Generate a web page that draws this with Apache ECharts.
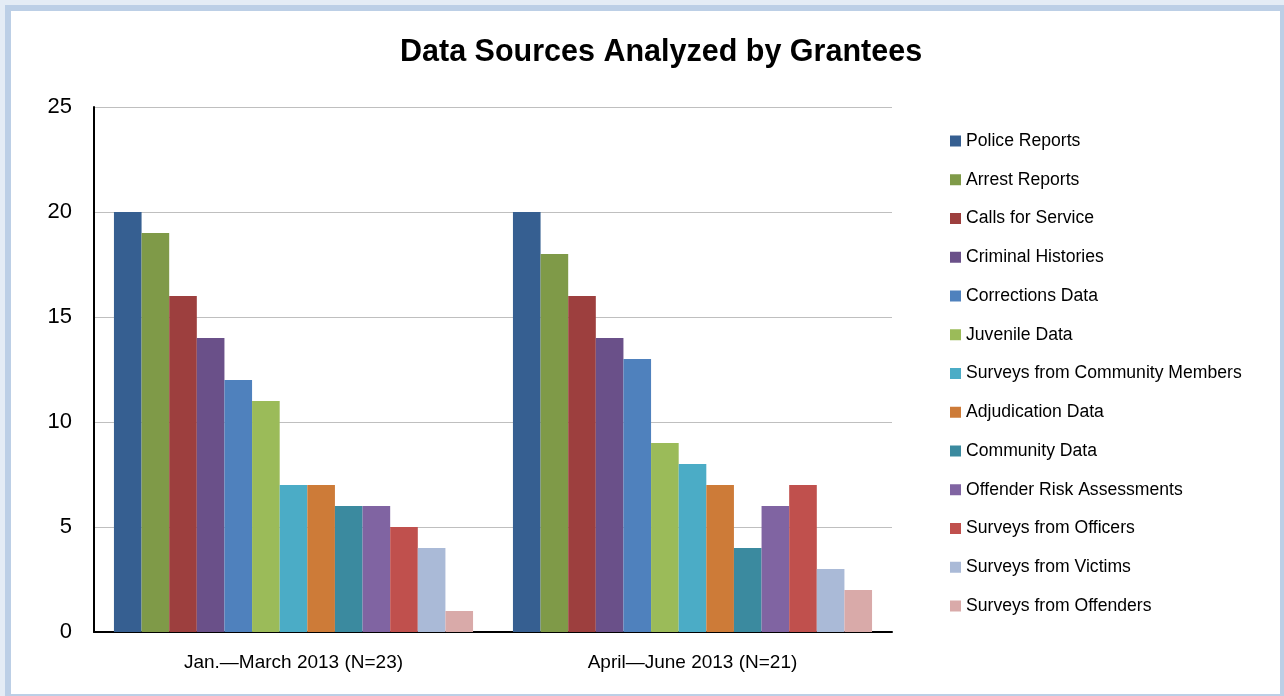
<!DOCTYPE html>
<html>
<head>
<meta charset="utf-8">
<script src="https://cdn.jsdelivr.net/npm/echarts@6/dist/echarts.min.js"></script>
<style>
  html, body { margin: 0; padding: 0; background: #e4ecf5; }
  #frame {
    position: absolute; left: 5px; top: 5px;
    width: 1281px; height: 695px; box-sizing: border-box;
    border: 6px solid #bccfe6; background: #fff;
  }
  #chart { position: absolute; left: 0; top: 0; width: 1284px; height: 696px; }
</style>
</head>
<body>
<div id="frame"></div>
<div id="chart"></div>
<script>
'use strict';
var categories = ['Jan.\u2014March 2013 (N=23)', 'April\u2014June 2013 (N=21)'];
var seriesNames = [
  'Police Reports', 'Arrest Reports', 'Calls for Service', 'Criminal Histories',
  'Corrections Data', 'Juvenile Data', 'Surveys from Community Members',
  'Adjudication Data', 'Community Data', 'Offender Risk Assessments',
  'Surveys from Officers', 'Surveys from Victims', 'Surveys from Offenders'
];
var janMarch = [20, 19, 16, 14, 12, 11, 7, 7, 6, 6, 5, 4, 1];
var aprilJune = [20, 18, 16, 14, 13, 9, 8, 7, 4, 6, 7, 3, 2];
var colors = [
  '#365f91', '#7f9a48', '#9d3f3e', '#6a5089', '#4f81bd', '#9bbb59', '#4bacc6',
  '#cd7b38', '#3b8a9f', '#8064a2', '#c0504d', '#aabad7', '#d9aaa9'
];
var yTicks = [0, 5, 10, 15, 20, 25];

var font = 'Liberation Sans, Arial, sans-serif';
var chart = echarts.init(document.getElementById('chart'));

var series = seriesNames.map(function (name, i) {
  return {
    type: 'bar',
    name: name,
    data: [janMarch[i], aprilJune[i]],
    itemStyle: { color: colors[i] },
    barGap: '0%',
    barCategoryGap: '10%'
  };
});

chart.setOption({
  animation: false,
  color: colors,
  title: {
    text: 'Data Sources Analyzed by Grantees',
    left: 395, top: 32,
    textStyle: { fontFamily: font, fontSize: 30.5, fontWeight: 'bold', color: '#000' }
  },
  legend: {
    orient: 'vertical',
    left: 950, top: 132, padding: 0,
    itemWidth: 11, itemHeight: 11, itemGap: 20.75,
    icon: 'rect',
    textStyle: { fontFamily: font, fontSize: 17.6, color: '#000', padding: [0, 0, 0, 0] },
    data: seriesNames
  },
  grid: { left: 94, right: 392, top: 107, bottom: 64 },
  xAxis: {
    type: 'category',
    data: categories,
    axisLine: { lineStyle: { color: '#000', width: 2 } },
    axisTick: { show: false },
    axisLabel: { fontFamily: font, fontSize: 19, color: '#000', margin: 21 }
  },
  yAxis: {
    type: 'value',
    min: yTicks[0], max: yTicks[yTicks.length - 1], interval: 5,
    axisLine: { show: true, lineStyle: { color: '#000', width: 2 } },
    axisTick: { show: false },
    splitLine: { lineStyle: { color: '#bfbfbf', width: 1 } },
    axisLabel: { fontFamily: font, fontSize: 22, color: '#000', margin: 22 }
  },
  series: series
});
</script>
</body>
</html>
